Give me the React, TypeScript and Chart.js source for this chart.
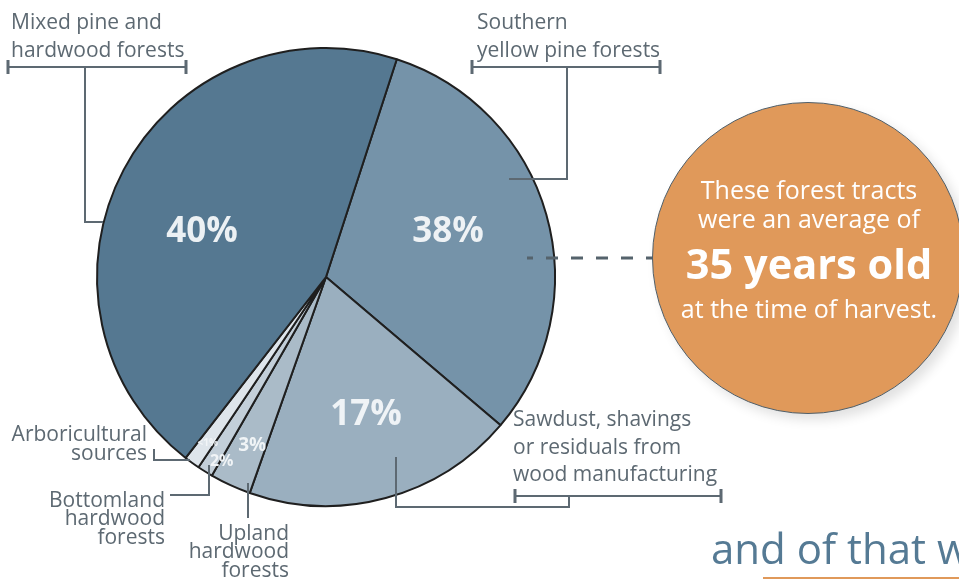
import React, { useEffect, useRef } from "react";
import { Chart, ArcElement, PieController } from "chart.js";

Chart.register(ArcElement, PieController);

// ---- data (order clockwise starting at the top boundary) ----
const categories = [
  "Southern yellow pine forests",
  "Sawdust, shavings or residuals from wood manufacturing",
  "Upland hardwood forests",
  "Bottomland hardwood forests",
  "Arboricultural sources",
  "Mixed pine and hardwood forests",
];
// share of the circle each slice occupies in the picture
const sliceShare = [31.2, 19.2, 2.9, 1.1, 1.1, 44.5];
// the percentage printed inside each slice
const percentLabels = ["38%", "17%", "3%", "2%", "<1%", "40%"];
const sliceColors = ["#7593a9", "#9aafbf", "#aabbc8", "#c3cfd9", "#dee5eb", "#557891"];
const labelSize = [35, 35, 19, 16, 10, 35];
const labelRadius = [0.572, 0.615, 0.8, 0.92, 0.886, 0.58];
const labelAngleShift = [-5.6, -1.4, -0.9, -2.2, -0.2, -6.9];

const GREY = "#5d6972";

type Pt = [number, number];
const brackets: { y: number; x0: number; x1: number }[] = [
  { y: 67, x0: 8, x1: 186 },
  { y: 67, x0: 472, x1: 660 },
  { y: 496, x0: 515, x1: 721 },
];
const leaderPaths: Pt[][] = [
  [[85, 67], [85, 222], [103, 222]],
  [[567, 67], [567, 179], [509, 179]],
  [[569, 496], [569, 507], [396, 507], [396, 457]],
  [[248, 483], [248, 518]],
  [[209, 465], [209, 495], [170, 495]],
  [[154, 449], [154, 460], [190, 460]],
];

const annotationPlugin = {
  id: "annotations",
  afterDatasetsDraw(chart: any) {
    const ctx: CanvasRenderingContext2D = chart.ctx;
    const meta = chart.getDatasetMeta(0);
    // slice labels
    meta.data.forEach((arc: any, i: number) => {
      const p = arc.getProps(["x", "y", "startAngle", "endAngle", "outerRadius"], true);
      const mid = (p.startAngle + p.endAngle) / 2 + (labelAngleShift[i] * Math.PI) / 180;
      const r = p.outerRadius * labelRadius[i];
      const x = p.x + Math.cos(mid) * r;
      const y = p.y + Math.sin(mid) * r;
      ctx.save();
      ctx.font = `bold ${labelSize[i]}px "Open Sans"`;
      ctx.fillStyle = "rgba(243,246,248,0.96)";
      ctx.textAlign = "center";
      ctx.textBaseline = "alphabetic";
      ctx.fillText(percentLabels[i], x, y + labelSize[i] * 0.357);
      ctx.restore();
    });
    // leader lines
    ctx.save();
    ctx.strokeStyle = GREY;
    ctx.lineWidth = 2;
    ctx.lineCap = "butt";
    ctx.lineJoin = "miter";
    leaderPaths.forEach((path) => {
      ctx.beginPath();
      path.forEach(([x, y], k) => (k === 0 ? ctx.moveTo(x, y) : ctx.lineTo(x, y)));
      ctx.stroke();
    });
    brackets.forEach((b) => {
      ctx.lineWidth = 2;
      ctx.beginPath();
      ctx.moveTo(b.x0, b.y);
      ctx.lineTo(b.x1, b.y);
      ctx.stroke();
      ctx.lineWidth = 3;
      ctx.beginPath();
      ctx.moveTo(b.x0, b.y - 7);
      ctx.lineTo(b.x0, b.y + 7);
      ctx.moveTo(b.x1, b.y - 7);
      ctx.lineTo(b.x1, b.y + 7);
      ctx.stroke();
    });
    // dashed connector to the callout circle
    ctx.lineWidth = 3;
    ctx.setLineDash([12, 13]);
    ctx.lineDashOffset = 6;
    ctx.strokeStyle = "#55636c";
    ctx.beginPath();
    ctx.moveTo(527, 258);
    ctx.lineTo(660, 258);
    ctx.stroke();
    ctx.restore();
  },
};

const FONT = '"Open Sans", "Noto Sans", sans-serif';

function TextBlock(props: {
  lines: string[];
  x: number;
  baseline: number;
  lh: number;
  size: number;
  align: "left" | "right" | "center";
  color?: string;
  weight?: number;
  width?: number;
}) {
  const { lines, x, baseline, lh, size, align, color = GREY, weight = 400, width = 400 } = props;
  const top = baseline - ((lh - 1.362 * size) / 2 + 1.069 * size);
  const style: React.CSSProperties = {
    position: "absolute",
    top,
    fontFamily: FONT,
    fontSize: size,
    lineHeight: `${lh}px`,
    color,
    fontWeight: weight,
    whiteSpace: "nowrap",
    textAlign: align,
  };
  if (align === "left") style.left = x;
  else if (align === "right") style.right = 959 - x;
  else {
    style.left = x - width / 2;
    style.width = width;
  }
  return (
    <div style={style}>
      {lines.map((l, i) => (
        <div key={i}>{l}</div>
      ))}
    </div>
  );
}

export default function App() {
  const canvasRef = useRef<HTMLCanvasElement | null>(null);

  useEffect(() => {
    if (!canvasRef.current) return;
    const chart = new Chart(canvasRef.current, {
      type: "pie",
      data: {
        labels: categories,
        datasets: [
          {
            data: sliceShare,
            backgroundColor: sliceColors,
            borderColor: "#1f1f1f",
            borderWidth: 2,
          },
        ],
      },
      options: {
        responsive: false,
        animation: false,
        rotation: 18,
        layout: { padding: { left: 96, top: 47, right: 403, bottom: 72 } },
        plugins: {
          legend: { display: false },
          tooltip: { enabled: false },
        },
        events: [],
      },
      plugins: [annotationPlugin],
    });
    let alive = true;
    if ((document as any).fonts && (document as any).fonts.ready) {
      (document as any).fonts.ready.then(() => {
        if (alive) chart.update();
      });
    }
    return () => {
      alive = false;
      chart.destroy();
    };
  }, []);

  return (
    <div
      style={{
        position: "absolute",
        left: 0,
        top: 0,
        width: 959,
        height: 579,
        overflow: "hidden",
        background: "#ffffff",
      }}
    >
      <canvas ref={canvasRef} width={959} height={579} style={{ position: "absolute", left: 0, top: 0 }} />

      <TextBlock lines={["Mixed pine and", "hardwood forests"]} x={11} baseline={29} lh={28} size={21} align="left" />
      <TextBlock lines={["Southern", "yellow pine forests"]} x={477} baseline={29} lh={28} size={21} align="left" />
      <TextBlock
        lines={["Sawdust, shavings", "or residuals from", "wood manufacturing"]}
        x={513}
        baseline={427}
        lh={27.5}
        size={21}
        align="left"
      />
      <TextBlock lines={["Arboricultural", "sources"]} x={147} baseline={442} lh={19} size={21} align="right" />
      <TextBlock lines={["Bottomland", "hardwood", "forests"]} x={165} baseline={507} lh={18.5} size={21} align="right" />
      <TextBlock lines={["Upland", "hardwood", "forests"]} x={289} baseline={540} lh={18.5} size={21} align="right" />

      {/* callout circle */}
      <div
        style={{
          position: "absolute",
          left: 652,
          top: 102,
          width: 310,
          height: 310,
          borderRadius: "50%",
          background: "#e0995a",
          border: "1.5px solid #4f5f6a",
          boxShadow: "6px 6px 12px rgba(0,0,0,0.12)",
        }}
      />
      <TextBlock lines={["These forest tracts"]} x={809} baseline={199} lh={30} size={25} align="center" color="#ffffff" />
      <TextBlock lines={["were an average of"]} x={809} baseline={228} lh={30} size={25} align="center" color="#ffffff" />
      <TextBlock lines={["35 years old"]} x={809} baseline={279} lh={48} size={41.5} align="center" color="#ffffff" weight={700} />
      <TextBlock lines={["at the time of harvest."]} x={809} baseline={318} lh={30} size={25} align="center" color="#ffffff" />

      <TextBlock lines={["and of that w"]} x={711} baseline={564} lh={46} size={42} align="left" color="#557a94" />
      <div style={{ position: "absolute", left: 763, top: 577, width: 200, height: 3, background: "#e0995a" }} />
    </div>
  );
}
